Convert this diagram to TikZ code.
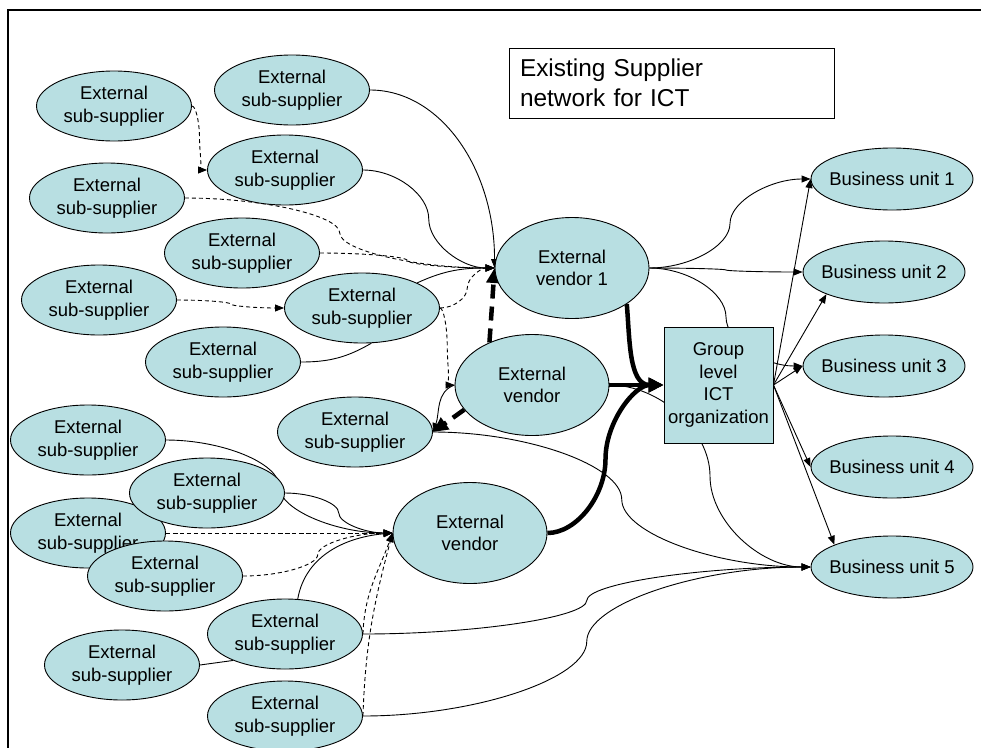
\documentclass[tikz,border=0pt]{standalone}
\usepackage{fontspec}
\setmainfont{Liberation Sans}
\usetikzlibrary{shapes.geometric,arrows.meta,calc}
\definecolor{tealfill}{RGB}{184,223,226}
\newcommand\boxtext{\fontsize{18.5}{22.7}\selectfont}
\newcommand\headtext{\fontsize{24.4}{30}\selectfont}
\pgfdeclarelayer{edges}
\pgfsetlayers{edges,main}

\begin{document}
\begin{tikzpicture}[x=1pt,y=1pt,
  base/.style={draw=black, line width=0.9pt, fill=tealfill, font=\boxtext, align=center, inner sep=0pt},
  sub/.style={base, ellipse, minimum width=155pt, minimum height=70pt},
  vendor/.style={base, ellipse, minimum width=154pt, minimum height=101pt},
  unit/.style={base, ellipse, minimum width=162pt, minimum height=62pt, inner xsep=-20pt},
  grp/.style={base, rectangle, minimum width=109pt, minimum height=116pt},
  headbox/.style={draw=black, line width=0.8pt, fill=white, font=\headtext, align=left,
    text width=303pt, inner xsep=11pt, minimum width=325pt, minimum height=70pt},
  plain/.style={line width=0.9pt},
  link/.style={line width=0.9pt, -{Triangle[length=9pt,width=7pt]}},
  dlink/.style={link, dash pattern=on 4pt off 3pt},
  heavy/.style={line width=4.5pt, -{Triangle[length=15pt,width=14pt]}},
  hdash/.style={heavy, dash pattern=on 14pt off 8pt},
  % S-shaped connector: horizontal at both ends, vertical at the midpoint
  scurve/.style={to path={let \p1=(\tikztostart), \p2=(\tikztotarget),
      \p3=($(\p1)!0.5!(\p2)$) in
      .. controls ({(\x1+\x3)/2},\y1) and (\x3,{(\y1+\y3)/2}) .. (\p3)
      .. controls (\x3,{(\y3+\y2)/2}) and ({(\x3+\x2)/2},\y2) .. (\p2) \tikztonodes}}
]
\useasboundingbox (0,0) rectangle (981,-747);

% outer frame
\draw[line width=2pt] (8,-760) -- (8,-10) -- (990,-10);

% heading
\node[headbox] (title) at (671.5,-83) {Existing Supplier\\network for ICT};

% sub-suppliers, upper cluster
\node[sub] (sA) at (114,-106) {External\\sub-supplier};
\node[sub] (sB) at (292,-90)  {External\\sub-supplier};
\node[sub] (sC) at (285,-170) {External\\sub-supplier};
\node[sub] (sD) at (107,-198) {External\\sub-supplier};
\node[sub] (sE) at (242,-253) {External\\sub-supplier};
\node[sub] (sF) at (99,-300)  {External\\sub-supplier};
\node[sub] (sG) at (362,-308) {External\\sub-supplier};
\node[sub] (sH) at (223,-362) {External\\sub-supplier};
\node[sub] (sI) at (355,-432) {External\\sub-supplier};

% sub-suppliers, lower cluster
\node[sub] (sJ) at (88,-440)  {External\\sub-supplier};
\node[sub] (sL) at (88,-533)  {External\\sub-supplier};
\node[sub] (sK) at (207,-493) {External\\sub-supplier};
\node[sub] (sM) at (165,-576) {External\\sub-supplier};
\node[sub] (sN) at (285,-634) {External\\sub-supplier};
\node[sub] (sO) at (122,-665) {External\\sub-supplier};
\node[sub] (sP) at (285,-716) {External\\sub-supplier};

% vendors
\node[vendor] (V1) at (572,-268) {External\\vendor 1};
\node[vendor] (V2) at (532,-385) {External\\vendor};
\node[vendor] (V3) at (470,-533) {External\\vendor};

% group organisation
\node[grp] (G) at (718.5,-385) {Group\\level\\ICT\\organization};

% business units
\node[unit] (BU1) at (892,-179) {Business unit 1};
\node[unit] (BU2) at (884,-272) {Business unit 2};
\node[unit] (BU3) at (884,-366) {Business unit 3};
\node[unit] (BU4) at (892,-467) {Business unit 4};
\node[unit] (BU5) at (892,-567) {Business unit 5};

\begin{pgfonlayer}{edges}
  % into vendor 1
  \draw[dlink] (sA.east) to[scurve] (sC.west);
  \draw[link] (sB.east) .. controls +(70,0) and +(0,100) .. (V1.west);
  \draw[link] (sC.east) to[scurve] (V1.west);
  \draw[dlink] (sD.east) to[scurve] (V1.west);
  \draw[dlink] (sE.east) to[scurve] (V1.west);
  \draw[dlink] (sF.east) to[scurve] (sG.west);
  \draw[link] (sG.north east) to[out=25,in=180] (V1.west);
  \draw[dlink] (sG.east) to[scurve] (V1.west);
  \draw[dlink] (sG.east) to[scurve] (V2.west);
  \draw[plain] (sH.east) to[out=0,in=-150] (sG.-75);
  \draw[hdash] (V2.135) -- (V1.west);
  \draw[hdash] (V2.200) -- (sI.east);
  \draw[link] (V2.west) to[out=200,in=70] (sI.east);

  % into vendor 3
  \draw[link] (sJ.east) to[scurve] (V3.west);
  \draw[link] (sK.east) to[scurve] (V3.west);
  \draw[dlink] (sL.east) to[scurve] (V3.west);
  \draw[dlink] (sM.east) to[scurve] (V3.west);
  \draw[link] (sN.70) to[out=80,in=185] (V3.west);
  \draw[dlink] (sN.east) to[out=88,in=250] (V3.west);
  \draw[dlink] (sP.east) to[out=88,in=255] (V3.west);
  \draw[plain] (sO.east) -- (sN.207);

  % vendors to the group organisation
  \draw[heavy] (V1.south east) to[out=-85,in=180] (G.west);
  \draw[heavy] (V2.east) -- (G.west);
  \draw[heavy] (V3.east) to[scurve] (G.west);

  % direct deliveries to business units
  \draw[link] (V1.east) to[scurve] (BU1.west);
  \draw[link] (V1.east) to[scurve] (BU2.west);
  \draw[link] (V1.east) to[scurve] (BU3.west);
  \draw[link] (V2.east) to[scurve] (BU5.west);
  \draw[link] (sI.east) to[scurve] (BU5.west);
  \draw[link] (sN.east) to[scurve] (BU5.west);
  \draw[link] (sP.east) to[scurve] (BU5.west);

  % group organisation to business units
  \draw[link] (G.east) -- (BU1.west);
  \draw[link] (G.east) -- (BU2.south west);
  \draw[link] (G.east) -- (BU3.west);
  \draw[link] (G.east) -- (BU4.west);
  \draw[link] (G.east) -- (BU5.north west);
\end{pgfonlayer}
\end{tikzpicture}
\end{document}
